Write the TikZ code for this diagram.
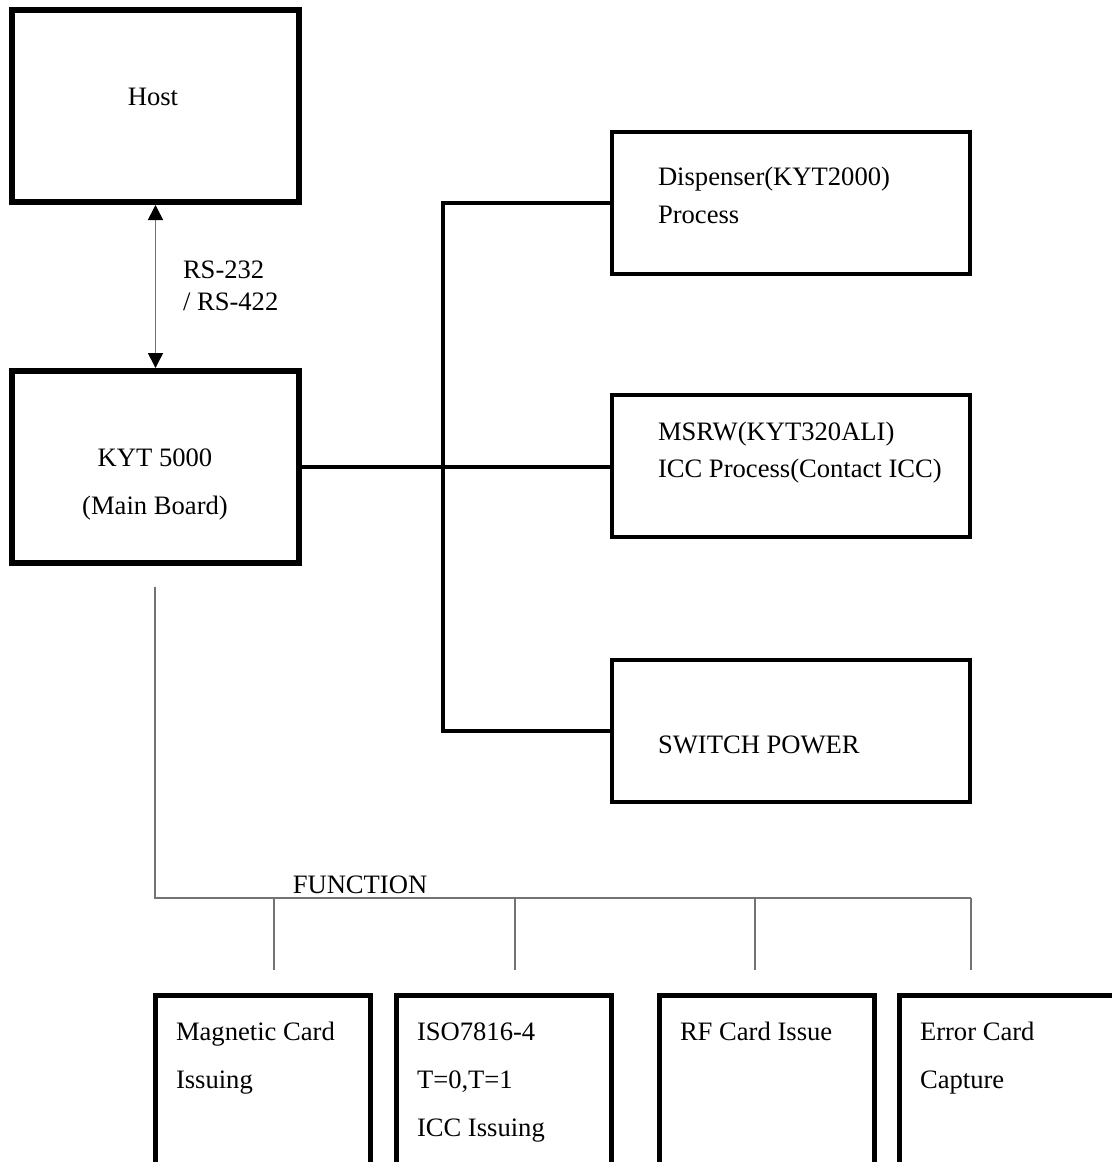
\documentclass[tikz,border=0pt]{standalone}
\usepackage{fontspec}
\setmainfont{Liberation Serif}
\usepackage{tikz}
\usetikzlibrary{arrows.meta,positioning,calc}
\tikzstyle{mainbox}=[draw,rectangle,line width=3pt,minimum width=143.5pt,minimum height=96pt,inner sep=0pt]
\tikzstyle{unitbox}=[draw,rectangle,line width=2pt,minimum width=179pt,minimum height=71pt,inner sep=0pt]
\tikzstyle{funcbox}=[draw,rectangle,line width=2.5pt,minimum width=107.5pt,minimum height=100pt,inner sep=0pt]
\tikzstyle{txt}=[font=\fontsize{13.3pt}{24pt}\selectfont,inner sep=0pt,outer sep=0pt]
\tikzstyle{bus}=[line width=2pt]
\tikzstyle{fline}=[draw=black!55,line width=0.8pt]

\begin{document}
\begin{tikzpicture}[x=0.5pt,y=-0.5pt]
\useasboundingbox (0,0) rectangle (1112,1162);
\clip (0,0) rectangle (1112,1162);
% host and main board
\node [mainbox] (host) at (155.5,106) {};
\node [mainbox, below=81.5pt of host] (kyt) {};
\node [txt, anchor=base] (hostlbl) at (153,105) {Host};
\node [txt, anchor=base, align=center] (kytlbl) at (155,514) {KYT 5000\\(Main Board)};
\draw [draw=black!55, line width=0.8pt, {Triangle[length=7.5pt,width=7.5pt,black]}-{Triangle[length=7.5pt,width=7.5pt,black]}] (host.south) -- (kyt.north);
\node [txt, anchor=base west, align=left, font=\fontsize{13.3pt}{16pt}\selectfont] (rslbl) at (183,310) {RS-232\\/ RS-422};
% units on the right
\node [unitbox] (disp) at (791,203) {};
\node [unitbox, below=58.5pt of disp] (msrw) {};
\node [unitbox, below=59.5pt of msrw] (power) {};
\node [txt, anchor=base west, align=left, font=\fontsize{13.3pt}{19pt}\selectfont] (displbl) at (658,223) {Dispenser(KYT2000)\\Process};
\node [txt, anchor=base west, align=left, font=\fontsize{13.3pt}{18.5pt}\selectfont] (msrwlbl) at (658,477) {MSRW(KYT320ALI)\\ICC Process(Contact ICC)};
\node [txt, anchor=base west] (powerlbl) at (658,753) {SWITCH POWER};
\coordinate (jdisp) at (443,203);
\draw [bus] (disp.west) -- (jdisp) |- (power.west);
\draw [bus] (kyt.east) -- (kyt.east -| msrw.west);
% functions
\coordinate (fstart) at (155,587);
\coordinate (fend) at (971,898);
\draw [fline] (fstart) |- (fend);
\node [txt, anchor=base] (funclbl) at (360,893) {FUNCTION};
\foreach \x/\n in {274/a,515/b,755/c,971/d} {
  \coordinate (tick\n) at (\x,898);
  \draw [fline] (tick\n) -- ++(0,72);
}
\node [funcbox] (mag) at (263,1095) {};
\node [funcbox, right=10.5pt of mag] (iso) {};
\node [funcbox, right=21.5pt of iso] (rf) {};
\node [funcbox, right=10pt of rf, minimum width=112pt] (err) {};
\node [txt, anchor=base west, align=left] (maglbl) at (176,1088) {Magnetic Card\\Issuing};
\node [txt, anchor=base west, align=left] (isolbl) at (417,1136) {ISO7816-4\\T=0,T=1\\ICC Issuing};
\node [txt, anchor=base west] (rflbl) at (680,1040) {RF Card Issue};
\node [txt, anchor=base west, align=left] (errlbl) at (920,1088) {Error Card\\Capture};
\end{tikzpicture}
\end{document}
